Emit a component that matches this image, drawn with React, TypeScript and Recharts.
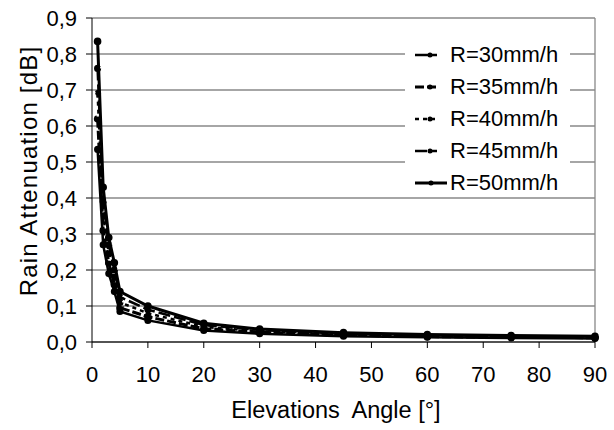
import { LineChart, Line, XAxis, YAxis, CartesianGrid, ReferenceLine } from 'recharts';

// elevation angles (degrees)
const angles = [1, 2, 3, 4, 5, 10, 20, 30, 45, 60, 75, 90];

// rain attenuation [dB] per rain rate
const r30 = [0.535, 0.27, 0.19, 0.14, 0.085, 0.06, 0.032, 0.023, 0.016, 0.013, 0.011, 0.01];
const r35 = [0.62, 0.31, 0.22, 0.16, 0.095, 0.07, 0.037, 0.027, 0.019, 0.015, 0.013, 0.012];
const r40 = [0.69, 0.35, 0.245, 0.18, 0.11, 0.08, 0.042, 0.03, 0.021, 0.017, 0.015, 0.014];
const r45 = [0.76, 0.39, 0.27, 0.2, 0.125, 0.09, 0.047, 0.033, 0.023, 0.019, 0.016, 0.015];
const r50 = [0.835, 0.43, 0.29, 0.22, 0.14, 0.1, 0.052, 0.036, 0.026, 0.021, 0.018, 0.016];

const xTicks = [0, 10, 20, 30, 40, 50, 60, 70, 80, 90];
const yTicks = [0, 0.1, 0.2, 0.3, 0.4, 0.5, 0.6, 0.7, 0.8, 0.9];

const data = angles.map((a, i) => ({
  angle: a,
  r30: r30[i],
  r35: r35[i],
  r40: r40[i],
  r45: r45[i],
  r50: r50[i],
}));

const series = [
  { key: 'r30', name: 'R=30mm/h', dash: '', width: 2.5 },
  { key: 'r35', name: 'R=35mm/h', dash: '9 3', width: 3 },
  { key: 'r40', name: 'R=40mm/h', dash: '4 4', width: 2.5 },
  { key: 'r45', name: 'R=45mm/h', dash: '12 4', width: 2.5 },
  { key: 'r50', name: 'R=50mm/h', dash: '', width: 3 },
];

const font = 'Liberation Sans, Arial, sans-serif';

export default function App() {
  return (
    <div style={{ position: 'absolute', left: 0, top: 0, width: 614, height: 430, background: '#fff' }}>
      <LineChart width={614} height={430} data={data} margin={{ top: 18, right: 19, bottom: 58, left: 32 }}>
        <CartesianGrid horizontal vertical={false} stroke="#888" strokeWidth={1.3} />
        <ReferenceLine x={90} stroke="#888" strokeWidth={1.3} />
        <XAxis
          dataKey="angle"
          type="number"
          domain={[0, 90]}
          ticks={xTicks}
          stroke="#000"
          tickLine={{ stroke: '#000' }}
          tickSize={6}
          tickMargin={18}
          tick={{ fill: '#000', fontSize: 22, fontFamily: font }}
          height={30}
          label={{
            content: () => (
              <text x={336} y={418} textAnchor="middle" fill="#000" fontSize={23.5} fontFamily={font}>
                {'Elevations\u00a0 Angle [°]'}
              </text>
            ),
          }}
        />
        <YAxis
          type="number"
          domain={[0, 0.9]}
          ticks={yTicks}
          width={60}
          stroke="#000"
          tickSize={6}
          tickMargin={9}
          tickFormatter={(v: number) => v.toFixed(1).replace('.', ',')}
          tick={{ fill: '#000', fontSize: 22, fontFamily: font }}
          label={{
            content: () => (
              <text
                x={28}
                y={171}
                transform="rotate(-90 28 171)"
                textAnchor="middle"
                dominantBaseline="central"
                fill="#000"
                fontSize={24}
                letterSpacing={1.2}
                fontFamily={font}
              >
                Rain Attenuation [dB]
              </text>
            ),
          }}
        />
        {series.map((s) => (
          <Line
            key={s.key}
            dataKey={s.key}
            name={s.name}
            stroke="#000"
            strokeWidth={s.width}
            strokeDasharray={s.dash}
            dot={{ r: 2.3, fill: '#000', stroke: '#000' }}
            isAnimationActive={false}
          />
        ))}
      </LineChart>
      {/* legend box, drawn on top of the gridlines */}
      <div style={{ position: 'absolute', left: 405, top: 38, width: 165, height: 156, background: '#fff', padding: '1px 0 0 10px', boxSizing: 'border-box', fontFamily: font }}>
        {series.map((s) => (
          <div key={s.key} style={{ display: 'flex', alignItems: 'center', height: 32 }}>
            <svg width={s.key === 'r50' ? 32 : 22} height={10} style={{ marginRight: s.key === 'r50' ? 3 : 13 }}>
              <line x1={0} y1={5} x2={s.key === 'r50' ? 32 : 22} y2={5} stroke="#000" strokeWidth={s.width} strokeDasharray={s.dash} />
              <circle cx={s.key === 'r50' ? 16 : 15} cy={5} r={2.5} fill="#000" />
            </svg>
            <span style={{ fontSize: 22, color: '#000' }}>{s.name}</span>
          </div>
        ))}
      </div>
    </div>
  );
}
